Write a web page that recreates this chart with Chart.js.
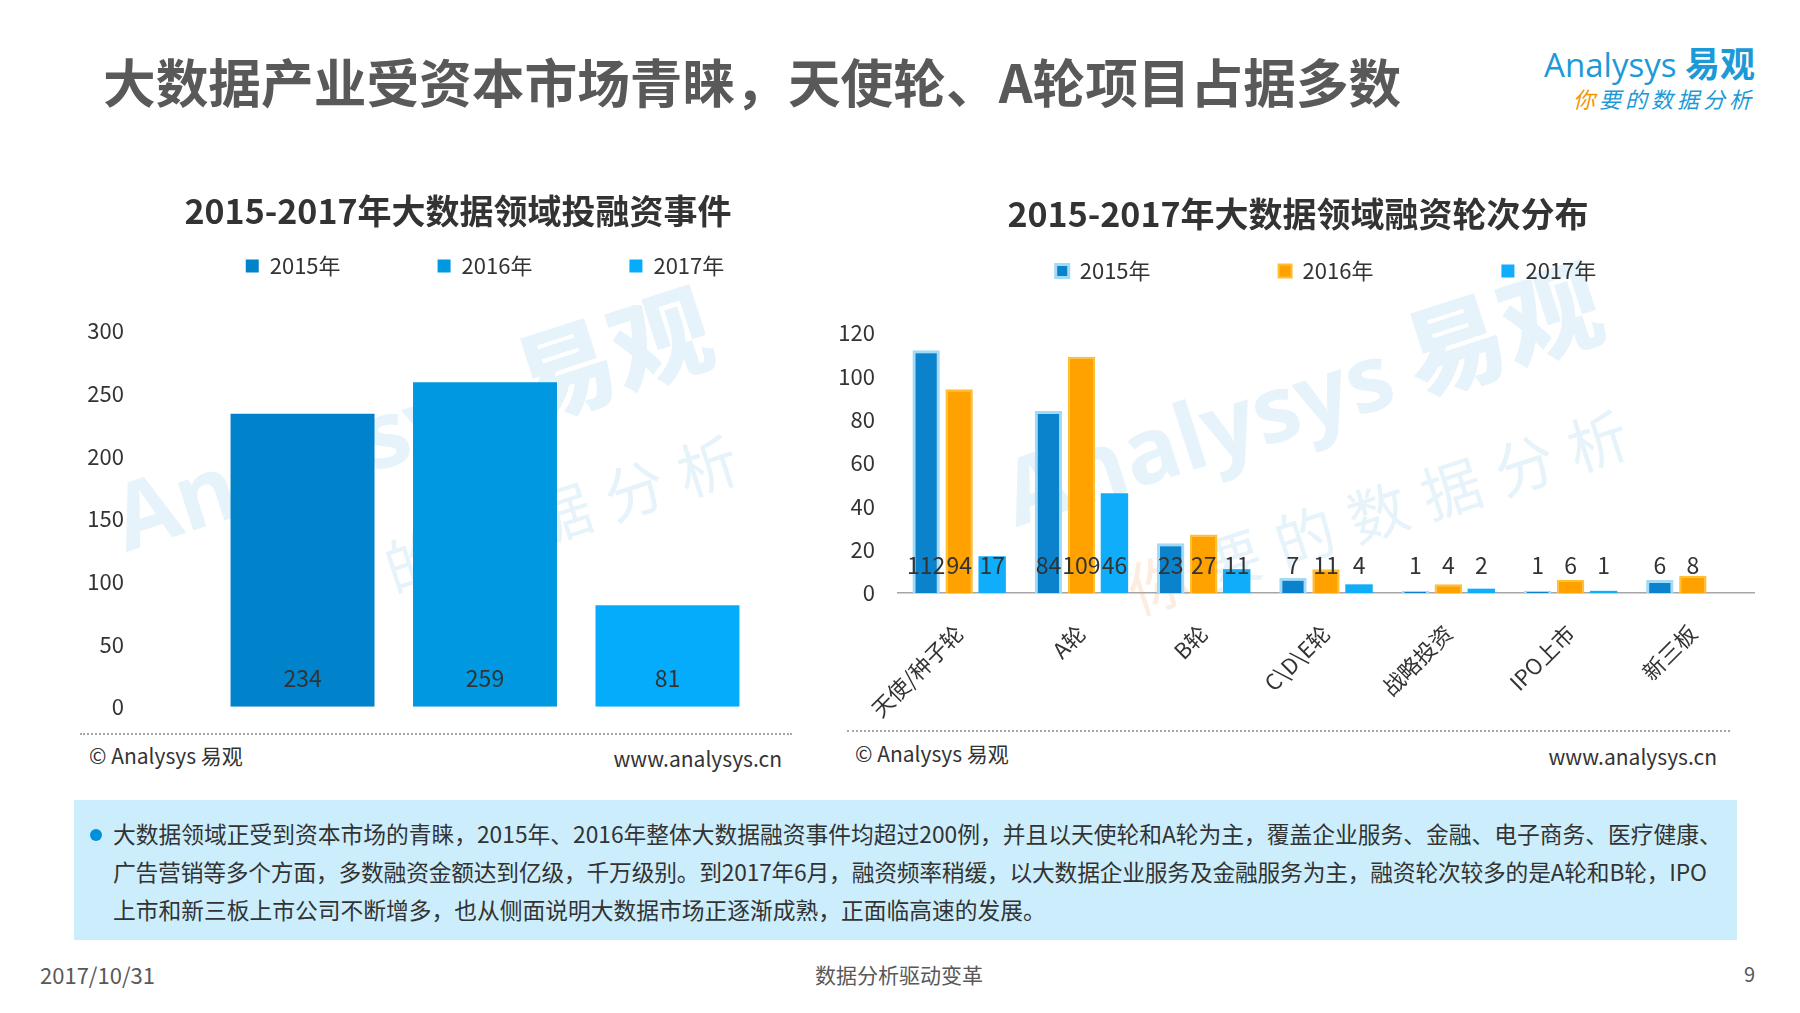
<!DOCTYPE html>
<html>
<head>
<meta charset="utf-8">
<script src="https://cdn.jsdelivr.net/npm/chart.js@4.4.1/dist/chart.umd.min.js"></script>
<style>
  html, body { margin:0; padding:0; background:#fff; }
  body { width:1800px; height:1013px; position:relative; overflow:hidden;
         font-family:"Noto Sans CJK SC","Noto Sans",sans-serif; }
  .abs { position:absolute; line-height:1; white-space:nowrap; }
  #heading { left:103px; top:54px; font-size:52.7px; font-weight:700; color:#595959; }
  .ctitle { font-size:34px; font-weight:700; color:#333; width:600px; text-align:center; z-index:3; }
  .foot { font-size:21px; color:#333; z-index:3; }
  .dots { position:absolute; height:0; border-top:2px dotted #a6a6a6; }
  #box { position:absolute; left:74px; top:800px; width:1663px; height:140px; background:#CCEEFC; }
  #boxtext { left:113px; top:815px; font-size:22.75px; line-height:38px; color:#333; }
  #boxtext .l2 { letter-spacing:-0.2px; }
  #bullet { position:absolute; left:90px; top:829px; width:12px; height:12px; border-radius:50%; background:#0091DA; }
  .bottom { color:#595959; }
  #logo1 { right:45px; top:44px; font-family:"Open Sans",sans-serif; font-size:33px; color:#1B9AD7; }
  #logo1 b { font-family:"Noto Sans CJK SC"; font-weight:700; font-size:35px; }
  #logo2 { right:45px; top:87px; font-size:22px; font-style:italic; color:#1B9AD7; letter-spacing:4px; }
  #logo2 span { color:#F29600; }
  .wm { position:absolute; line-height:1; white-space:nowrap; z-index:1; color:#E6F3FA;
        transform:translate(-50%,-50%) rotate(-18deg); pointer-events:none; }
  .wm1 { font-family:"Open Sans","Noto Sans CJK SC",sans-serif; font-size:92px; font-weight:700; }
  .wm1 b { font-family:"Noto Sans CJK SC"; font-size:100px; margin-left:20px; }
  .wm2 { font-size:60px; letter-spacing:17px; }
  .wm2 span { color:#FCEDE0; }
  canvas { position:absolute; z-index:2; }
</style>
</head>
<body>
<div id="heading" class="abs">大数据产业受资本市场青睐，天使轮、A轮项目占据多数</div>
<div id="logo1" class="abs">Analysys <b>易观</b></div>
<div id="logo2" class="abs"><span>你</span>要的数据分析</div>

<div class="wm wm1" style="left:410px; top:417px;">Analysys<b>易观</b></div>
<div class="wm wm2" style="left:495px; top:532px;"><span>你</span>要的数据分析</div>
<div class="wm wm1" style="left:1300px; top:392px;">Analysys<b>易观</b></div>
<div class="wm wm2" style="left:1385px; top:507px;"><span>你</span>要的数据分析</div>

<div class="abs ctitle" style="left:158px; top:193px;">2015-2017年大数据领域投融资事件</div>
<div class="abs ctitle" style="left:998px; top:196px;">2015-2017年大数据领域融资轮次分布</div>

<canvas id="c1" width="776" height="573" style="left:60px; top:158px; width:776px; height:573px;"></canvas>
<canvas id="c2" width="930" height="591" style="left:838px; top:132px; width:930px; height:591px;"></canvas>

<div class="dots" style="left:80px; top:733px; width:712px;"></div>
<div class="dots" style="left:847px; top:730px; width:883px;"></div>
<div class="abs foot" style="left:89px; top:745px;">© Analysys 易观</div>
<div class="abs foot" style="right:1018px; top:748px;">www.analysys.cn</div>
<div class="abs foot" style="left:855px; top:743px;">© Analysys 易观</div>
<div class="abs foot" style="right:83px; top:746px;">www.analysys.cn</div>

<div id="box"></div>
<div id="bullet"></div>
<div id="boxtext" class="abs">大数据领域正受到资本市场的青睐，2015年、2016年整体大数据融资事件均超过200例，并且以天使轮和A轮为主，覆盖企业服务、金融、电子商务、医疗健康、<br><span class="l2">广告营销等多个方面，多数融资金额达到亿级，千万级别。到2017年6月，融资频率稍缓，以大数据企业服务及金融服务为主，融资轮次较多的是A轮和B轮，IPO</span><br>上市和新三板上市公司不断增多，也从侧面说明大数据市场正逐渐成熟，正面临高速的发展。</div>

<div class="abs bottom" style="left:40px; top:963px; font-size:22px;">2017/10/31</div>
<div class="abs bottom" style="left:699px; top:964px; width:400px; text-align:center; font-size:21px;">数据分析驱动变革</div>
<div class="abs bottom" style="right:45px; top:964px; font-size:20px;">9</div>

<script>
// ---------- data ----------
const yearNames = ['2015年', '2016年', '2017年'];
const eventTotals = [234, 259, 81];           // left chart, one bar per year
const eventTicks = [0, 50, 100, 150, 200, 250, 300];

const roundNames = ['天使/种子轮', 'A轮', 'B轮', 'C\\D\\E轮', '战略投资', 'IPO上市', '新三板'];
const rounds2015 = [112, 84, 23, 7, 1, 1, 6];
const rounds2016 = [94, 109, 27, 11, 4, 6, 8];
const rounds2017 = [17, 46, 11, 4, 2, 1, null];
const roundTicks = [0, 20, 40, 60, 80, 100, 120];

// ---------- styles ----------
const FONT = '"Noto Sans CJK SC", "Noto Sans", sans-serif';
Chart.defaults.font.family = FONT;
Chart.defaults.color = '#333';

const legendMargin = {
  id: 'legendMargin',
  beforeInit(chart, args, opts) {
    const orig = chart.legend.fit;
    chart.legend.fit = function () {
      orig.bind(chart.legend)();
      this.height += (opts.extra || 0);
    };
  }
};

const baseLabels = {
  id: 'baseLabels',
  afterDatasetsDraw(chart, args, opts) {
    const ctx = chart.ctx;
    const y0 = chart.scales.y.getPixelForValue(0);
    ctx.save();
    ctx.font = (opts.size || 23) + 'px ' + FONT;
    ctx.fillStyle = '#333';
    ctx.textAlign = 'center';
    ctx.textBaseline = 'middle';
    chart.data.datasets.forEach((ds, i) => {
      const meta = chart.getDatasetMeta(i);
      meta.data.forEach((el, j) => {
        const v = ds.data[j];
        if (v === null || v === undefined) return;
        ctx.fillText(String(v), el.x, y0 - opts.offset);
      });
    });
    ctx.restore();
  }
};

function tickCallbackFrom(list) {
  return function (value) { return list.includes(value) ? String(value) : ''; };
}

// ---------- left chart ----------
const leftColors = ['#0083CA', '#0098E0', '#05ACFC'];
new Chart(document.getElementById('c1'), {
  type: 'bar',
  data: {
    labels: [''],
    datasets: yearNames.map((name, i) => ({
      label: name,
      data: [eventTotals[i]],
      backgroundColor: leftColors[i],
      borderWidth: 0,
      categoryPercentage: 0.782,
      barPercentage: 0.789
    }))
  },
  options: {
    responsive: false,
    animation: false,
    layout: { padding: { left: 0, right: 1, top: 0, bottom: 20 } },
    scales: {
      x: { display: false },
      y: {
        min: eventTicks[0], max: eventTicks[eventTicks.length - 1],
        ticks: { stepSize: 50, padding: 11, color: '#333', font: { size: 22 },
                 callback: tickCallbackFrom(eventTicks) },
        grid: { display: false, drawTicks: false },
        border: { display: false },
        afterFit(s) { s.width = 75; }
      }
    },
    plugins: {
      legend: {
        position: 'top', fullSize: false,
        labels: { boxWidth: 13, boxHeight: 13, padding: 97, color: '#333', font: { size: 22 } }
      },
      tooltip: { enabled: false },
      legendMargin: { extra: 44 },
      baseLabels: { offset: 29, size: 23 }
    }
  },
  plugins: [legendMargin, baseLabels]
});

// ---------- right chart ----------
const rightStyles = [
  { bg: '#0A83CC', border: '#A3DBF6', bw: 3 },
  { bg: '#FFA200', border: '#FFBF33', bw: 2 },
  { bg: '#10ADFA', border: '#10ADFA', bw: 0 }
];
const rightSeries = [rounds2015, rounds2016, rounds2017];
new Chart(document.getElementById('c2'), {
  type: 'bar',
  data: {
    labels: roundNames,
    datasets: rightSeries.map((vals, i) => ({
      label: yearNames[i],
      data: vals,
      backgroundColor: rightStyles[i].bg,
      borderColor: rightStyles[i].border,
      borderWidth: rightStyles[i].bw,
      categoryPercentage: 0.81,
      barPercentage: 0.83
    }))
  },
  options: {
    responsive: false,
    animation: false,
    layout: { padding: { left: 0, right: 14, top: 0, bottom: 0 } },
    scales: {
      x: {
        ticks: { minRotation: 45, maxRotation: 45, padding: 27, color: '#333', font: { size: 22 } },
        grid: { display: false, drawTicks: false },
        border: { display: true, color: '#A6A6A6', width: 1.5 },
        afterFit(s) { s.height = 130; }
      },
      y: {
        min: roundTicks[0], max: roundTicks[roundTicks.length - 1],
        ticks: { stepSize: 20, padding: 23, color: '#333', font: { size: 22 },
                 callback: tickCallbackFrom(roundTicks) },
        grid: { display: false, drawTicks: false },
        border: { display: false },
        afterFit(s) { s.width = 60; }
      }
    },
    plugins: {
      legend: {
        position: 'top', fullSize: false,
        labels: { boxWidth: 13, boxHeight: 13, padding: 128, color: '#333', font: { size: 22 } }
      },
      tooltip: { enabled: false },
      legendMargin: { extra: 41 },
      baseLabels: { offset: 28, size: 23 }
    }
  },
  plugins: [legendMargin, baseLabels]
});
</script>
</body>
</html>
